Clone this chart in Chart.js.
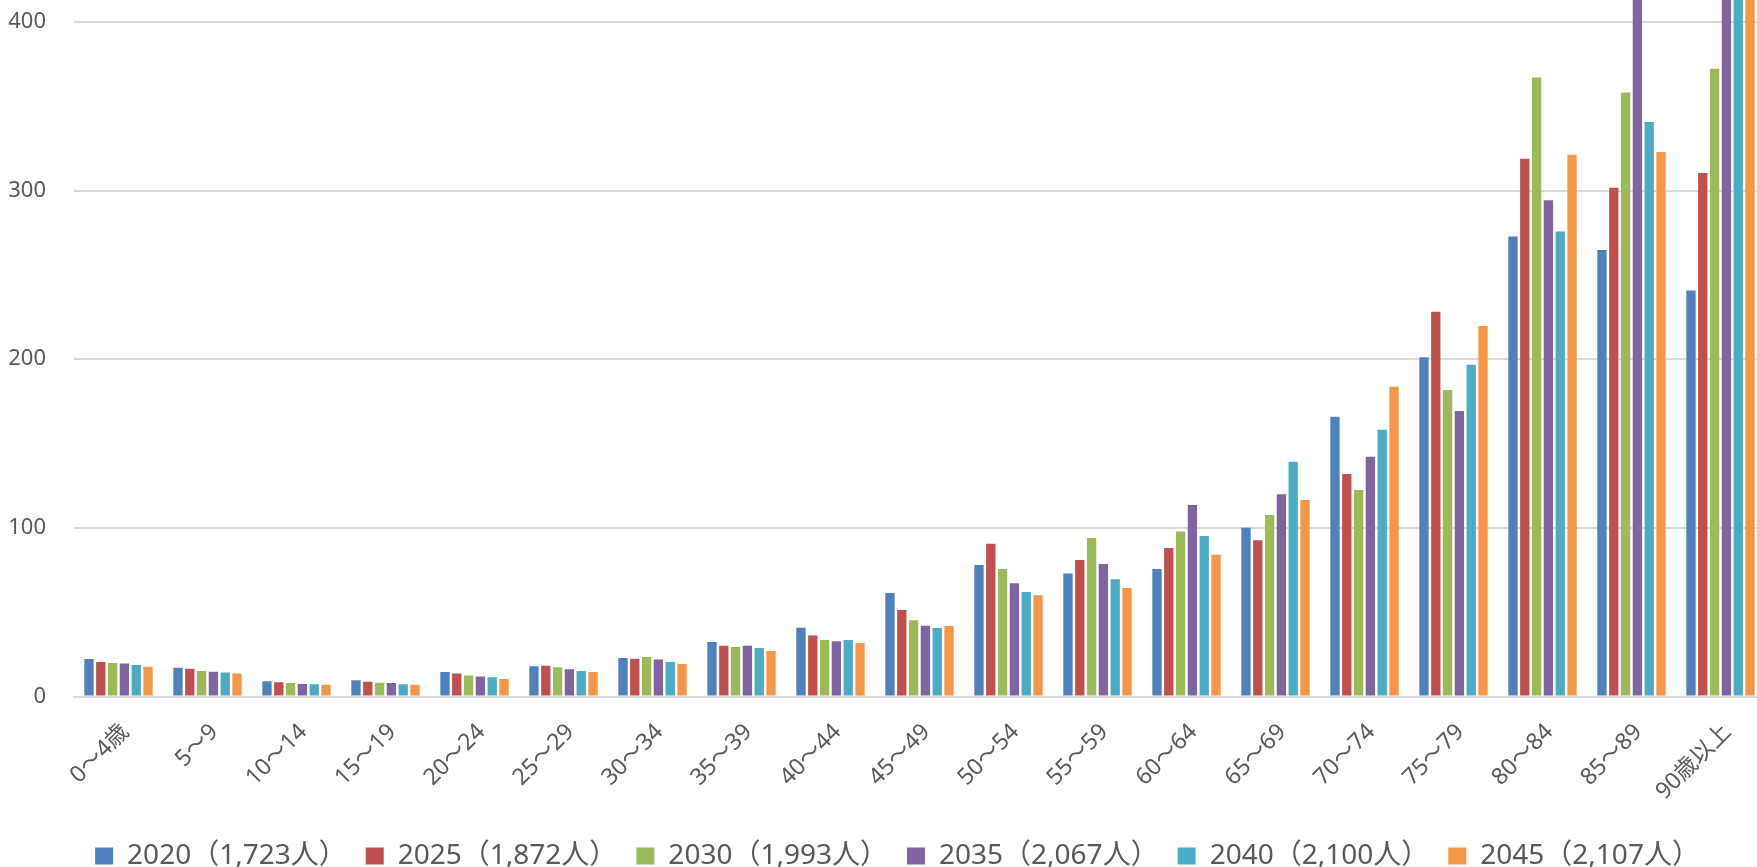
<!DOCTYPE html>
<html>
<head>
<meta charset="utf-8">
<script src="https://cdn.jsdelivr.net/npm/chart.js@4"></script>
<style>
  html, body { margin: 0; padding: 0; background: #fff; overflow: hidden; }
  #wrap { width: 1757px; height: 867px; overflow: hidden; }
  canvas { display: block; }
</style>
</head>
<body>
<div id="wrap"><canvas id="chart" width="1765" height="880"></canvas></div>
<script>
// age groups
var ages = ["0～4歳", "5～9", "10～14", "15～19", "20～24", "25～29", "30～34", "35～39", "40～44",
  "45～49", "50～54", "55～59", "60～64", "65～69", "70～74", "75～79", "80～84", "85～89", "90歳以上"];

// legend labels (year + total)
var years = ["2020（1,723人）", "2025（1,872人）", "2030（1,993人）", "2035（2,067人）", "2040（2,100人）", "2045（2,107人）"];

// values per year (tops above 400 are cut off in the original)
var v2020 = [22.2, 17.1, 9.0, 9.6, 14.5, 17.9, 22.8, 32.3, 40.8, 61.4, 78.0, 73.0, 75.6, 100.1, 165.9, 201.1, 272.8, 264.7, 240.8];
var v2025 = [20.5, 16.5, 8.4, 8.8, 13.7, 18.3, 22.4, 30.1, 36.1, 51.3, 90.6, 80.9, 88.0, 92.7, 131.9, 228.1, 318.9, 301.7, 310.4];
var v2030 = [19.9, 15.1, 8.0, 8.2, 12.5, 17.3, 23.4, 29.3, 33.5, 45.2, 75.6, 94.0, 97.9, 107.6, 122.4, 181.7, 367.1, 358.2, 372.2];
var v2035 = [19.5, 14.7, 7.4, 8.0, 11.9, 16.1, 22.0, 30.1, 32.7, 42.0, 67.1, 78.6, 113.5, 119.9, 142.2, 169.3, 294.2, 425, 453];
var v2040 = [18.7, 14.3, 7.2, 7.2, 11.4, 15.1, 20.5, 28.8, 33.5, 40.6, 62.0, 69.5, 95.2, 139.2, 158.2, 196.7, 275.8, 340.6, 566];
var v2045 = [17.7, 13.7, 7.0, 7.0, 10.4, 14.5, 19.3, 27.0, 31.7, 41.8, 60.0, 64.3, 84.1, 116.5, 183.7, 219.7, 321.2, 322.8, 545];

var yTicks = [0, 100, 200, 300, 400];

var colors = ["#4F81BD", "#C0504D", "#9BBB59", "#8064A2", "#4BACC6", "#F79646"];
var series = [v2020, v2025, v2030, v2035, v2040, v2045];

var fontFam = "'Noto Sans', 'Noto Sans CJK JP', sans-serif";
var grey = "#595959";

var sets = series.map(function(d, i) {
  return {
    label: years[i],
    data: d,
    backgroundColor: colors[i],
    borderWidth: 0,
    categoryPercentage: 0.796,
    barPercentage: 0.79
  };
});

// no extra padding around the plot, the original is cut at the top and right
function noPad(s) {
  s.paddingTop = 0;
  s.paddingBottom = 0;
  s.paddingLeft = 0;
  s.paddingRight = 0;
}

// legend sits a bit right of the canvas middle in the original
var shiftLegend = {
  id: "shiftLegend",
  afterLayout: function(chart) {
    chart.legend.left += 15;
    chart.legend.right += 15;
  }
};

new Chart(document.getElementById("chart"), {
  type: "bar",
  data: { labels: ages, datasets: sets },
  plugins: [shiftLegend],
  options: {
    responsive: false,
    animation: false,
    devicePixelRatio: 1,
    layout: { padding: 0, autoPadding: false },
    plugins: {
      tooltip: { enabled: false },
      legend: {
        position: "bottom",
        labels: {
          boxWidth: 18,
          boxHeight: 17,
          padding: 19,
          color: grey,
          font: { family: fontFam, size: 28 }
        }
      }
    },
    scales: {
      x: {
        grid: { display: false, drawTicks: false },
        border: { display: true, color: "#d9d9d9", width: 2 },
        ticks: {
          autoSkip: false,
          minRotation: 45,
          maxRotation: 45,
          padding: 22,
          labelOffset: 7,
          color: grey,
          font: { family: fontFam, size: 23 }
        },
        afterFit: function(s) { s.height = 126.5; noPad(s); }
      },
      y: {
        min: 0,
        max: 413,
        grid: { color: "#d9d9d9", lineWidth: 2, drawTicks: false },
        border: { display: false },
        ticks: {
          stepSize: 100,
          includeBounds: false,
          padding: 28,
          color: grey,
          font: { family: fontFam, size: 22 }
        },
        afterBuildTicks: function(s) {
          s.ticks = yTicks.map(function(v) { return { value: v }; });
        },
        afterFit: function(s) { s.width = 74; noPad(s); }
      }
    }
  }
});
</script>
</body>
</html>
